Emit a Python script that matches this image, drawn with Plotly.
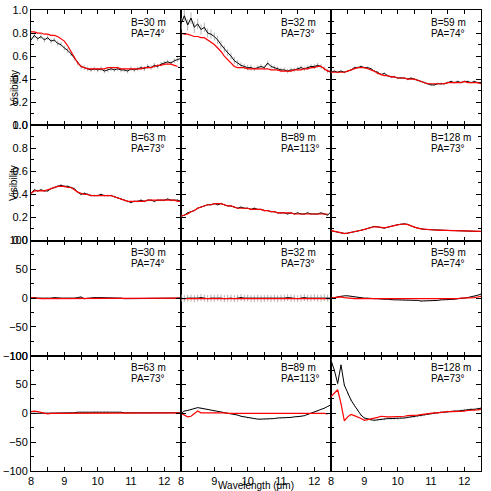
import plotly.graph_objects as go
from plotly.subplots import make_subplots

# wavelength grid (micron)
wl = [8.0, 8.1, 8.2, 8.3, 8.4, 8.5, 8.6, 8.7, 8.8, 8.9,
      9.0, 9.1, 9.2, 9.3, 9.4, 9.5, 9.6, 9.7, 9.8, 9.9,
      10.0, 10.1, 10.2, 10.3, 10.4, 10.5, 10.6, 10.7, 10.8, 10.9,
      11.0, 11.1, 11.2, 11.3, 11.4, 11.5, 11.6, 11.7, 11.8, 11.9,
      12.0, 12.1, 12.2, 12.3, 12.4, 12.5]

baselines = ['B=30 m', 'B=32 m', 'B=59 m', 'B=63 m', 'B=89 m', 'B=128 m']
angles = ['PA=74°', 'PA=73°', 'PA=74°', 'PA=73°', 'PA=113°', 'PA=73°']

# visibilities: observed (black) and model (red)
vis_30_obs = [0.74, 0.78, 0.75, 0.77, 0.74, 0.76, 0.73, 0.74, 0.71, 0.70,
              0.67, 0.65, 0.62, 0.58, 0.54, 0.51, 0.50, 0.49, 0.48, 0.49,
              0.48, 0.49, 0.47, 0.48, 0.49, 0.48, 0.49, 0.48, 0.48, 0.47,
              0.49, 0.48, 0.49, 0.50, 0.49, 0.51, 0.50, 0.52, 0.51, 0.53,
              0.54, 0.55, 0.54, 0.56, 0.57, 0.58]
vis_30_mod = [0.81, 0.81, 0.80, 0.80, 0.79, 0.79, 0.78, 0.78, 0.77, 0.75,
              0.73, 0.69, 0.64, 0.58, 0.54, 0.51, 0.50, 0.49, 0.49, 0.49,
              0.49, 0.49, 0.49, 0.50, 0.50, 0.50, 0.50, 0.49, 0.49, 0.49,
              0.49, 0.49, 0.49, 0.49, 0.50, 0.50, 0.50, 0.51, 0.52, 0.52,
              0.53, 0.53, 0.53, 0.52, 0.51, None]
vis_32_obs = [0.88, 0.95, 0.87, 0.93, 0.85, 0.88, 0.83, 0.85, 0.80, 0.79,
              0.77, 0.74, 0.70, 0.66, 0.63, 0.60, 0.56, 0.54, 0.52, 0.51,
              0.50, 0.50, 0.49, 0.50, 0.51, 0.50, 0.54, 0.51, 0.50, 0.49,
              0.48, 0.48, 0.47, 0.48, 0.48, 0.49, 0.50, 0.49, 0.50, 0.51,
              0.51, 0.52, 0.51, 0.49, 0.47, 0.46]
vis_32_mod = [0.80, 0.79, 0.79, 0.78, 0.77, 0.77, 0.76, 0.76, 0.74, 0.72,
              0.70, 0.67, 0.64, 0.60, 0.57, 0.54, 0.51, 0.50, 0.50, 0.50,
              0.49, 0.49, 0.49, 0.49, 0.49, 0.49, 0.49, 0.48, 0.48, 0.48,
              0.47, 0.47, 0.47, 0.47, 0.48, 0.48, 0.48, 0.49, 0.49, 0.50,
              0.50, 0.51, 0.51, 0.49, 0.47, 0.47]
vis_59_obs = [0.46, 0.47, 0.46, 0.47, 0.46, 0.47, 0.48, 0.50, 0.50, 0.51,
              0.50, 0.50, 0.49, 0.47, 0.46, 0.44, 0.45, 0.43, 0.42, 0.42,
              0.41, 0.41, 0.41, 0.40, 0.41, 0.40, 0.39, 0.38, 0.37, 0.36,
              0.35, 0.35, 0.36, 0.36, 0.36, 0.37, 0.38, 0.37, 0.38, 0.37,
              0.38, 0.38, 0.37, 0.38, 0.37, 0.37]
vis_59_mod = [0.46, 0.46, 0.46, 0.46, 0.46, 0.47, 0.48, 0.49, 0.50, 0.50,
              0.50, 0.49, 0.48, 0.47, 0.45, 0.44, 0.43, 0.43, 0.42, 0.42,
              0.41, 0.41, 0.41, 0.40, 0.40, 0.40, 0.39, 0.38, 0.37, 0.36,
              0.36, 0.36, 0.36, 0.36, 0.36, 0.37, 0.37, 0.37, 0.37, 0.37,
              0.38, 0.37, 0.37, 0.37, 0.37, 0.36]
vis_63_obs = [0.41, 0.44, 0.43, 0.44, 0.43, 0.43, 0.45, 0.46, 0.47, 0.48,
              0.47, 0.47, 0.46, 0.45, 0.42, 0.40, 0.41, 0.40, 0.39, 0.39,
              0.39, 0.40, 0.39, 0.39, 0.39, 0.38, 0.37, 0.36, 0.35, 0.34,
              0.33, 0.34, 0.34, 0.35, 0.34, 0.35, 0.35, 0.34, 0.35, 0.35,
              0.35, 0.36, 0.35, 0.35, 0.35, 0.34]
vis_63_mod = [0.41, 0.43, 0.43, 0.43, 0.43, 0.44, 0.45, 0.46, 0.47, 0.47,
              0.47, 0.46, 0.46, 0.44, 0.42, 0.41, 0.40, 0.40, 0.39, 0.39,
              0.39, 0.39, 0.39, 0.39, 0.39, 0.38, 0.37, 0.36, 0.35, 0.34,
              0.34, 0.34, 0.34, 0.34, 0.34, 0.35, 0.35, 0.35, 0.35, 0.35,
              0.35, 0.35, 0.35, 0.35, 0.34, 0.34]
vis_89_obs = [0.21, 0.22, 0.24, 0.25, 0.26, 0.28, 0.29, 0.30, 0.31, 0.31,
              0.32, 0.31, 0.32, 0.31, 0.30, 0.30, 0.29, 0.28, 0.29, 0.28,
              0.28, 0.27, 0.28, 0.27, 0.27, 0.26, 0.26, 0.25, 0.25, 0.24,
              0.24, 0.24, 0.23, 0.24, 0.23, 0.24, 0.23, 0.23, 0.24, 0.23,
              0.23, 0.23, 0.24, 0.23, 0.22, 0.25]
vis_89_mod = [0.21, 0.22, 0.23, 0.25, 0.26, 0.28, 0.29, 0.30, 0.31, 0.31,
              0.32, 0.32, 0.32, 0.31, 0.30, 0.30, 0.29, 0.28, 0.28, 0.28,
              0.28, 0.27, 0.27, 0.27, 0.27, 0.26, 0.26, 0.25, 0.25, 0.24,
              0.24, 0.24, 0.24, 0.24, 0.23, 0.23, 0.23, 0.23, 0.23, 0.23,
              0.23, 0.23, 0.23, 0.23, 0.23, None]
vis_128_obs = [0.085, 0.080, 0.070, 0.065, 0.060, 0.064, 0.070, 0.075, 0.080, 0.090,
               0.095, 0.105, 0.115, 0.122, 0.118, 0.110, 0.107, 0.115, 0.125, 0.130,
               0.137, 0.142, 0.145, 0.140, 0.125, 0.115, 0.108, 0.100, 0.097, 0.095,
               0.093, 0.090, 0.090, 0.088, 0.088, 0.087, 0.086, 0.086, 0.085, 0.085,
               0.085, 0.084, 0.082, 0.080, 0.080, 0.078]
vis_128_mod = [0.085, 0.078, 0.070, 0.066, 0.062, 0.064, 0.069, 0.075, 0.081, 0.089,
               0.096, 0.105, 0.113, 0.119, 0.118, 0.112, 0.110, 0.116, 0.124, 0.130,
               0.136, 0.141, 0.143, 0.138, 0.126, 0.116, 0.108, 0.101, 0.097, 0.095,
               0.093, 0.091, 0.090, 0.089, 0.088, 0.087, 0.086, 0.086, 0.085, 0.085,
               0.084, 0.083, 0.082, 0.081, 0.080, 0.079]

# differential phases (deg): observed (black) and model (red)
ph_30_obs = [0, 1, 0, 0, -1, 0, 0, 1, 0, 0,
             0, 0, -1, 0, 1, 2, -1, 0, 0, 1,
             1, 1, 1, 0, 0, 0, 0, 0, -1, -1,
             -1, -1, -1, -1, -1, 0, 0, 0, 0, 0,
             0, 0, 0, 0, 0, 1]
ph_30_mod = [1, 0, 0, -1, -1, -1, -1, -1, -1, 0,
             0, 0, 0, 0, 0, 0, 0, 0, 0, 0,
             0, 0, 0, 0, 0, 0, 0, 0, 0, -1,
             -1, -1, -1, -1, -1, -1, -1, 0, 0, 0,
             0, 0, 0, 0, 0, 0]
ph_32_obs = [0, -1, 0, 0, -1, 0, 1, 0, -1, 0,
             0, 1, 0, -1, 0, 0, -1, 0, 1, 0,
             0, -1, -1, 0, -1, -1, 0, -1, 0, -1,
             0, 0, 1, 0, 0, -1, 0, 1, 0, 0,
             1, 0, 0, 1, 0, 0]
ph_32_mod = [-1, -1, -1, -1, -1, -1, -1, -1, -1, -1,
             -1, -1, -1, -1, -1, -1, -1, -1, -1, -1,
             -1, -1, -1, -1, -1, -1, -1, -1, -1, -1,
             -1, -1, -1, -1, -1, -1, -1, -1, -1, -1,
             -1, -1, -1, -1, -1, -1]
ph_59_obs = [0, 1, 3, 4, 4, 4, 3, 2, 1, 1,
             0, 0, -1, -1, -1, -2, -2, -2, -3, -3,
             -3, -3, -4, -4, -4, -4, -4, -5, -5, -4,
             -4, -4, -4, -3, -3, -3, -2, -2, -1, -1,
             0, 1, 2, 3, 5, 7]
ph_59_mod = [0, 1, 2, 2, 1, 0, 0, -1, -1, -1,
             -1, -1, -2, -2, -2, -2, -2, -2, -2, -2,
             -2, -2, -2, -2, -2, -2, -2, -2, -2, -2,
             -2, -2, -2, -2, -1, -1, -1, -1, -1, 0,
             0, 0, 1, 1, 2, 3]
ph_63_obs = [0, 0, 0, 0, 0, 0, 0, 0, 1, 1,
             1, 1, 1, 1, 2, 2, 2, 2, 2, 3,
             3, 3, 3, 3, 2, 2, 2, 2, 1, 1,
             1, 1, 1, 1, 1, 1, 1, 1, 1, 1,
             1, 1, 1, 1, 1, 1]
ph_63_mod = [3, 4, 3, 2, 0, -1, 0, 0, 0, 0,
             0, 0, 0, 0, 0, 0, 0, 0, 0, 0,
             0, 0, 0, 0, 0, 0, 0, 0, 0, 0,
             0, 0, 0, 0, 0, 1, 1, 1, 1, 1,
             1, 1, 1, 1, 1, 1]
ph_89_obs = [0, 4, 5, 7, 9, 10, 9, 8, 7, 5,
             4, 3, 2, 1, 0, -1, -2, -3, -5, -6,
             -8, -9, -9, -10, -10, -10, -10, -9, -9, -8,
             -8, -8, -7, -7, -6, -6, -5, -4, -2, 0,
             2, 4, 7, 9, 12, 15]
ph_89_mod = [0, -3, -6, -5, 0, 4, 1, 1, 2, 1,
             1, 1, 1, 1, 0, 0, 1, 1, 1, 1,
             1, 1, 1, 1, 1, 0, 0, 0, 0, 0,
             0, 0, 0, 0, 0, 0, 0, 0, 0, 1,
             1, 1, 0, 0, -1, None]
ph_128_obs = [92, 75, 52, 84, 49, 35, 23, 14, 6, -3,
              -8, -10, -11, -12, -11, -10, -10, -9, -9, -9,
              -9, -8, -8, -7, -6, -6, -5, -4, -3, -1,
              0, 1, 1, 2, 2, 3, 3, 4, 4, 5,
              6, 6, 7, 7, 8, 9]
ph_128_mod = [29, 35, 41, 17, -13, -6, -2, -4, -6, -9,
              -12, -11, -10, -9, -7, -5, -6, -6, -6, -6,
              -6, -5, -5, -4, -4, -3, -3, -2, -1, -1,
              0, 1, 1, 2, 2, 3, 3, 3, 4, 4,
              4, 5, 5, 6, 6, 7]

# error bars (grey) per panel
err_32 = [0.05, 0.05, 0.05, 0.05, 0.05, 0.045, 0.045, 0.04, 0.04, 0.04,
          0.035, 0.035, 0.035, 0.03, 0.03, 0.03, 0.03, 0.025, 0.025, 0.025,
          0.025, 0.025, 0.02, 0.02, 0.02, 0.02, 0.02, 0.02, 0.02, 0.02,
          0.02, 0.02, 0.02, 0.02, 0.02, 0.02, 0.02, 0.02, 0.02, 0.02,
          0.02, 0.02, 0.02, 0.02, 0.02, 0.02]
vis_err = [0.02, err_32, 0.01, 0.01, 0.008, 0.005]
ph_err = [1, 6, 1, 1, 1, 2]

vis_obs = [vis_30_obs, vis_32_obs, vis_59_obs, vis_63_obs, vis_89_obs, vis_128_obs]
vis_mod = [vis_30_mod, vis_32_mod, vis_59_mod, vis_63_mod, vis_89_mod, vis_128_mod]
ph_obs = [ph_30_obs, ph_32_obs, ph_59_obs, ph_63_obs, ph_89_obs, ph_128_obs]
ph_mod = [ph_30_mod, ph_32_mod, ph_59_mod, ph_63_mod, ph_89_mod, ph_128_mod]

fig = make_subplots(rows=4, cols=3, horizontal_spacing=0, vertical_spacing=0)

for i in range(12):
    row = i // 3 + 1
    col = i % 3 + 1
    k = i % 6
    if i < 6:
        obs, mod, err = vis_obs[k], vis_mod[k], vis_err[k]
    else:
        obs, mod, err = ph_obs[k], ph_mod[k], ph_err[k]
    if isinstance(err, list):
        ebar = dict(type='data', array=err, color='#b4b4b4', thickness=1, width=0)
    else:
        ebar = dict(type='constant', value=err, color='#b4b4b4', thickness=1, width=0)
    fig.add_trace(go.Scatter(x=wl, y=obs, mode='lines', line=dict(color='black', width=1),
                             error_y=ebar, showlegend=False), row=row, col=col)
    fig.add_trace(go.Scatter(x=wl, y=mod, mode='lines', line=dict(color='red', width=1.2),
                             showlegend=False), row=row, col=col)

    n = '' if i == 0 else str(i + 1)
    fig.add_annotation(text=baselines[k], xref=f'x{n} domain', yref=f'y{n} domain',
                       x=0.655, y=0.895, xanchor='left', yanchor='middle', showarrow=False,
                       font=dict(size=10, color='black'))
    fig.add_annotation(text=angles[k], xref=f'x{n} domain', yref=f'y{n} domain',
                       x=0.655, y=0.80, xanchor='left', yanchor='middle', showarrow=False,
                       font=dict(size=10, color='black'))

    fig.update_xaxes(range=[8, 12.5], dtick=1, tick0=8, showticklabels=(row == 4),
                     row=row, col=col)
    if i < 6:
        fig.update_yaxes(range=[0, 1], dtick=0.2, tickformat='.1f',
                         minor=dict(dtick=0.1, ticks='inside', ticklen=3, tickcolor='black'),
                         showticklabels=(col == 1), row=row, col=col)
    else:
        fig.update_yaxes(range=[-100, 100], dtick=50,
                         minor=dict(dtick=25, ticks='inside', ticklen=3, tickcolor='black'),
                         showticklabels=(col == 1), row=row, col=col)

fig.update_xaxes(showline=True, mirror='allticks', linecolor='black', linewidth=1,
                 ticks='inside', ticklen=4, tickcolor='black', showgrid=False, zeroline=False,
                 minor=dict(dtick=0.5, ticks='inside', ticklen=4, tickcolor='black'),
                 tickfont=dict(size=11, color='black'), automargin=False)
fig.update_yaxes(showline=True, mirror='allticks', linecolor='black', linewidth=1,
                 ticks='inside', ticklen=5, tickcolor='black', showgrid=False, zeroline=False,
                 tickfont=dict(size=11, color='black'), automargin=False)

for yc in [0.875, 0.625]:
    fig.add_annotation(text='Visibility', xref='paper', yref='paper', x=-0.054, y=yc,
                       textangle=-90, showarrow=False, font=dict(size=10, color='black'))
fig.add_annotation(text='Wavelength (μm)', xref='paper', yref='paper', x=0.5, y=-0.016,
                   xanchor='center', yanchor='top', showarrow=False,
                   font=dict(size=10, color='black'))

fig.update_layout(width=491, height=491, margin=dict(l=31, r=10, t=10, b=20),
                  plot_bgcolor='white', paper_bgcolor='white',
                  font=dict(family='Liberation Sans, Arial, sans-serif', color='black'))

# drop the default page margin so the figure starts at the window corner
fig.write_html("out.html", config={'displayModeBar': False},
               post_script="document.body.style.margin='0px';")
